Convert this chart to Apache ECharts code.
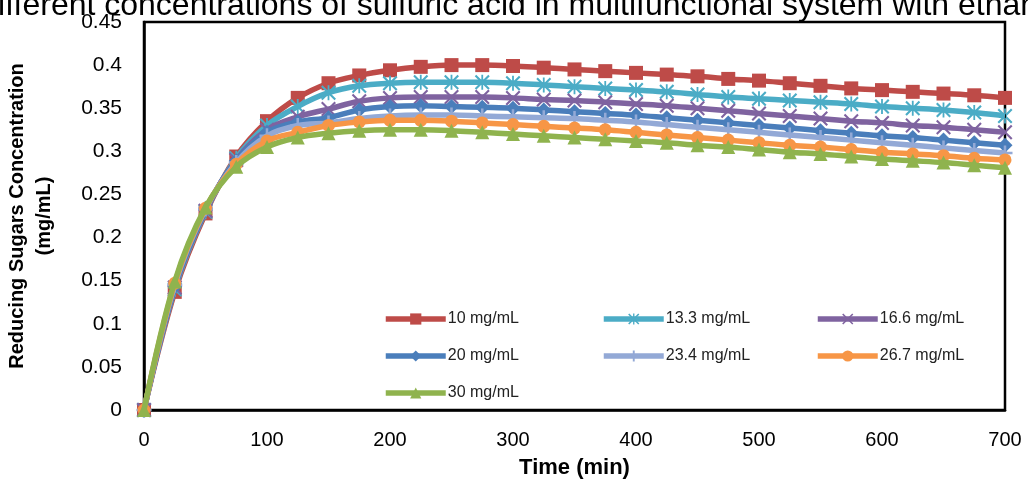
<!DOCTYPE html>
<html>
<head>
<meta charset="utf-8">
<script src="https://cdn.jsdelivr.net/npm/echarts@6/dist/echarts.min.js"></script>
<style>
html,body{margin:0;padding:0;background:#fff;}
#chart{width:1028px;height:483px;}
</style>
</head>
<body>
<div id="chart"></div>
<script>
const titleText = 'Different concentrations of sulfuric acid in multifunctional system with ethanol';
const times = [0,25,50,75,100,125,150,175,200,225,250,275,300,325,350,375,400,425,450,475,500,525,550,575,600,625,650,675,700];
const seriesNames = ['10 mg/mL','13.3 mg/mL','16.6 mg/mL','20 mg/mL','23.4 mg/mL','26.7 mg/mL','30 mg/mL'];
const c10  = [0,0.137,0.228,0.294,0.335,0.362,0.379,0.388,0.394,0.398,0.400,0.400,0.399,0.397,0.395,0.393,0.391,0.389,0.387,0.384,0.382,0.379,0.376,0.373,0.371,0.369,0.367,0.365,0.362];
const c133 = [0,0.140,0.230,0.292,0.330,0.352,0.368,0.376,0.379,0.380,0.380,0.380,0.379,0.377,0.375,0.373,0.371,0.369,0.366,0.363,0.361,0.359,0.357,0.355,0.352,0.350,0.348,0.345,0.341];
const c166 = [0,0.142,0.231,0.290,0.325,0.340,0.349,0.358,0.362,0.363,0.363,0.363,0.362,0.360,0.359,0.357,0.355,0.353,0.350,0.347,0.344,0.341,0.338,0.335,0.333,0.330,0.328,0.325,0.322];
const c20  = [0,0.143,0.232,0.289,0.322,0.334,0.339,0.348,0.352,0.353,0.352,0.351,0.350,0.348,0.346,0.344,0.342,0.339,0.336,0.333,0.330,0.327,0.324,0.321,0.318,0.316,0.313,0.310,0.307];
const c234 = [0,0.145,0.233,0.287,0.318,0.330,0.333,0.338,0.341,0.342,0.342,0.341,0.340,0.339,0.338,0.336,0.334,0.331,0.328,0.325,0.322,0.319,0.316,0.313,0.310,0.307,0.304,0.301,0.298];
const c267 = [0,0.147,0.234,0.285,0.312,0.322,0.330,0.334,0.336,0.336,0.335,0.333,0.331,0.329,0.327,0.325,0.322,0.319,0.316,0.313,0.310,0.307,0.305,0.302,0.299,0.297,0.295,0.292,0.290];
const c30  = [0,0.149,0.235,0.282,0.305,0.316,0.321,0.324,0.325,0.325,0.324,0.322,0.320,0.318,0.316,0.314,0.312,0.310,0.307,0.305,0.302,0.299,0.297,0.294,0.291,0.289,0.287,0.284,0.281];
const allValues = [c10,c133,c166,c20,c234,c267,c30];

const colors = ['#BE4B48','#4BACC6','#7F63A0','#4A7EBB','#93A9D6','#F79646','#8FB34E'];
const XPATH = 'path://M-1,-0.8 L-0.8,-1 L0,-0.2 L0.8,-1 L1,-0.8 L0.2,0 L1,0.8 L0.8,1 L0,0.2 L-0.8,1 L-1,0.8 L-0.2,0 Z';
const STAR = 'path://M-1,-0.8 L-0.8,-1 L0,-0.2 L0.8,-1 L1,-0.8 L0.2,0 L1,0.8 L0.8,1 L0,0.2 L-0.8,1 L-1,0.8 L-0.2,0 Z M-0.12,-1 L-0.12,1 L0.12,1 L0.12,-1 Z';
const PLUS = 'path://M-0.17,-1 L0.17,-1 L0.17,-0.17 L1,-0.17 L1,0.17 L0.17,0.17 L0.17,1 L-0.17,1 L-0.17,0.17 L-1,0.17 L-1,-0.17 L-0.17,-0.17 Z';
const symbols = ['rect', STAR, XPATH, 'diamond', PLUS, 'circle', 'triangle'];
const symbolSizes = [14, 15, 15, 15, 15, 13, 14];

const FONT = '"Liberation Sans", Arial, sans-serif';

const chart = echarts.init(document.getElementById('chart'), null, {renderer:'canvas'});

const series = seriesNames.map((name, k) => ({
  name: name,
  type: 'line',
  smooth: 0.35,
  data: times.map((t, i) => [t, allValues[k][i]]),
  symbol: symbols[k],
  symbolSize: symbolSizes[k],
  showSymbol: true,
  lineStyle: {color: colors[k], width: 5.5},
  itemStyle: {color: colors[k], borderWidth: 0},
  z: 2 + k
}));

function legendCol(names, left) {
  return {
    data: names,
    orient: 'vertical',
    left: left,
    top: 306,
    itemWidth: 60,
    itemHeight: 14,
    itemGap: 21,
    lineStyle: {width: 5.5},
    textStyle: {fontFamily: FONT, fontSize: 16, color: '#222', padding: [0,0,0,-3]}
  };
}

chart.setOption({
  animation: false,
  backgroundColor: '#fff',
  color: colors,
  graphic: [{
    type: 'text', left: -25, top: -10,
    style: {text: titleText, font: '32px ' + FONT, fill: '#000'}
  }],
  grid: {left: 144, right: 23, top: 22, bottom: 73, containLabel: false, outerBoundsMode: 'none',
         show: true, borderColor: '#000', borderWidth: 2.5, backgroundColor: 'transparent'},
  legend: [
    legendCol([seriesNames[0], seriesNames[3], seriesNames[6]], 378),
    legendCol([seriesNames[1], seriesNames[4]], 596),
    legendCol([seriesNames[2], seriesNames[5]], 810)
  ],
  xAxis: {
    type: 'value', min: 0, max: 700, interval: 100,
    name: 'Time (min)', nameLocation: 'middle', nameGap: 47,
    nameTextStyle: {fontFamily: FONT, fontSize: 22, fontWeight: 'bold', color: '#000'},
    axisLine: {show: true, lineStyle: {color: '#000', width: 2.5}},
    axisTick: {show: false},
    splitLine: {show: false},
    axisLabel: {fontFamily: FONT, fontSize: 20, color: '#000', margin: 20}
  },
  yAxis: {
    type: 'value', min: 0, max: 0.45, interval: 0.05,
    name: 'Reducing Sugars Concentration\n(mg/mL)', nameLocation: 'middle', nameGap: 86, nameRotate: 90,
    nameTextStyle: {fontFamily: FONT, fontSize: 20, fontWeight: 'bold', color: '#000', lineHeight: 27, align: 'center'},
    axisLine: {show: true, lineStyle: {color: '#000', width: 2.5}},
    axisTick: {show: false},
    splitLine: {show: false},
    axisLabel: {fontFamily: FONT, fontSize: 21, color: '#000', margin: 22}
  },
  series: series
});
</script>
</body>
</html>
